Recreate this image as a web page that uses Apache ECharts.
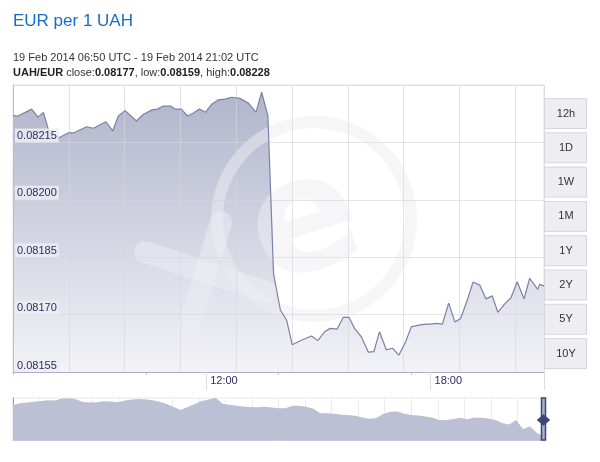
<!DOCTYPE html>
<html>
<head>
<meta charset="utf-8">
<script src="https://cdn.jsdelivr.net/npm/echarts@6/dist/echarts.min.js"></script>
<style>
html, body { margin: 0; padding: 0; background: #fff; }
#chart { width: 600px; height: 462px; }
</style>
</head>
<body>
<div id="chart"></div>
<script>
// UAH/EUR, 19 Feb 2014 (UTC)
var times = ["06:50","06:58","07:20","07:30","07:39","07:47","08:04","08:19","08:28","08:48",
  "08:59","09:19","09:30","09:39","09:50","10:08","10:19","10:33","10:42","10:51",
  "11:03","11:10","11:20","11:30","11:39","11:49","11:59","12:09","12:19","12:30",
  "12:41","12:54","13:08","13:20","13:29","13:39","13:48","13:59","14:09","14:18",
  "14:30","14:49","14:59","15:10","15:19","15:30","15:40","15:49","15:58","16:09",
  "16:20","16:29","16:38","16:49","16:59","17:09","17:20","17:29","17:43","17:53",
  "18:01","18:09","18:19","18:29","18:39","18:48","18:59","19:08","19:19","19:29",
  "19:39","19:48","19:59","20:09","20:19","20:30","20:39","20:52","20:55","21:02"];
var rates = [0.082220,0.082219,0.082237,0.082216,0.082228,0.082182,0.082162,0.082175,0.082175,0.082191,
  0.082187,0.082204,0.082180,0.082219,0.082233,0.082206,0.082223,0.082235,0.082237,0.082245,
  0.082245,0.082237,0.082237,0.082219,0.082226,0.082237,0.082229,0.082250,0.082261,0.082263,
  0.082268,0.082265,0.082252,0.082229,0.082281,0.082219,0.081808,0.081712,0.081686,0.081621,
  0.081631,0.081644,0.081632,0.081655,0.081664,0.081662,0.081693,0.081693,0.081664,0.081642,
  0.081602,0.081603,0.081655,0.081608,0.081612,0.081594,0.081629,0.081668,0.081673,0.081675,
  0.081675,0.081677,0.081675,0.081730,0.081681,0.081689,0.081738,0.081785,0.081777,0.081741,
  0.081749,0.081706,0.081728,0.081744,0.081786,0.081741,0.081795,0.081766,0.081779,0.081775];
var timeLabels = ["12:00", "18:00"];

// long-range overview (navigator), relative level
var navLevels = [35,36.7,37.5,38.3,39,39.7,39.5,41.5,41.7,40.8,38,37.5,37.7,38.7,38.5,37.7,39.5,40.5,41,40.5,
  39.8,38.3,36,33,30,33,36,39,40.5,42.3,36.3,35.3,34.3,33.5,33,32.7,33.3,32.5,31.7,31.7,
  34.3,34.3,33.3,31.2,26.7,26.7,26.2,25.2,25,24.2,22.5,21.3,22,26,28.3,28.5,26.2,25,24.5,23.5,
  22.5,20,20,21,22.3,20.8,22.5,22.3,21.5,20.3,17,15.5,20,11,13.8,7,3.3];

var rangeButtons = ["12h", "1D", "1W", "1M", "1Y", "2Y", "5Y", "10Y"];

var FONT = "Liberation Sans";

function toMin(s) {
  var p = s.split(":");
  return +p[0] * 60 + +p[1];
}
function minToLabel(m) {
  var h = Math.floor(m / 60), mm = m % 60;
  return (h < 10 ? "0" : "") + h + ":" + (mm < 10 ? "0" : "") + mm;
}

var seriesData = times.map(function (t, i) { return [toMin(t), rates[i]]; });
var xMin = toMin(times[0]), xMax = toMin(times[times.length - 1]);
var labelMins = timeLabels.map(toMin);

var gridCol = "rgba(214,214,220,0.65)";
var graphics = [];
// watermark
var wm = "rgba(238,238,244,0.5)";
graphics.push({ type: "ring", z: 2, silent: true, shape: { cx: 314, cy: 219, r: 103, r0: 91 }, style: { fill: wm } });
graphics.push({ type: "text", z: 2, silent: true, x: 306, y: 228, rotation: 0.3,
  style: { text: "e", font: "bold 160px 'DejaVu Sans'", fill: wm, align: "center", verticalAlign: "middle" } });
graphics.push({ type: "line", z: 2, silent: true, shape: { x1: 145, y1: 252, x2: 266, y2: 292 }, style: { stroke: wm, lineWidth: 22, lineCap: "round" } });
graphics.push({ type: "line", z: 2, silent: true, shape: { x1: 221, y1: 222, x2: 188, y2: 330 }, style: { stroke: wm, lineWidth: 22, lineCap: "round" } });

// range buttons
rangeButtons.forEach(function (b, i) {
  var top = 98 + i * 34.3;
  graphics.push({ type: "rect", shape: { x: 544.5, y: top + 0.5, width: 42, height: 30 },
    style: { fill: "#eeeef2", stroke: "#d6d6de", lineWidth: 1 } });
  graphics.push({ type: "text", x: 566, y: top + 15.5,
    style: { text: b, font: "11px '" + FONT + "'", fill: "#333", align: "center", verticalAlign: "middle" } });
});

// navigator handle
graphics.push({ type: "rect", z: 10, shape: { x: 541.5, y: 398, width: 4, height: 42 },
  style: { fill: "#aab0cc", stroke: "#3b4677", lineWidth: 1.5 } });
graphics.push({ type: "polygon", z: 11, shape: { points: [[536.8, 420], [543.5, 414.3], [550.2, 420], [543.5, 425.7]] },
  style: { fill: "#3b4677" } });

var yMin = 0.08155, yMax = 0.0823, yStep = 0.00015;

var chart = echarts.init(document.getElementById("chart"));
chart.setOption({
  animation: false,
  textStyle: { fontFamily: FONT },
  title: [
    { text: "EUR per 1 UAH", left: 13, top: 13, padding: 0,
      textStyle: { fontSize: 17, fontWeight: "normal", color: "#1a6bc4", fontFamily: FONT } },
    { text: "19 Feb 2014 06:50 UTC - 19 Feb 2014 21:02 UTC", left: 13, top: 52, padding: 0,
      textStyle: { fontSize: 11, fontWeight: "normal", color: "#333", fontFamily: FONT } },
    { text: "{b|UAH/EUR} close:{b|0.08177}, low:{b|0.08159}, high:{b|0.08228}", left: 13, top: 67, padding: 0,
      textStyle: { fontSize: 11, fontWeight: "normal", color: "#333", fontFamily: FONT,
        rich: { b: { fontWeight: "bold", fontSize: 11, color: "#222", fontFamily: FONT } } } }
  ],
  grid: [
    { left: 13, right: 56, top: 85, height: 287, show: true, borderColor: "#e2e2e2", borderWidth: 1, backgroundColor: "#fff" },
    { left: 13, right: 56, top: 398, height: 42, show: true, borderColor: "#e6e6e6", borderWidth: 1, backgroundColor: "#fff" }
  ],
  xAxis: [
    { type: "value", gridIndex: 0, min: xMin, max: xMax, z: 4,
      axisLine: { show: true, lineStyle: { color: "#a9aec8" } },
      axisTick: { show: true, customValues: labelMins.concat([xMax]), length: 18, lineStyle: { color: "#dcdce2" } },
      axisLabel: { customValues: labelMins, formatter: function (v) { return minToLabel(v); },
        align: "left", padding: [0, 0, 0, 4], margin: 3, color: "#2d2d63", fontSize: 11, fontFamily: FONT },
      splitLine: { show: false } },
    { type: "value", gridIndex: 0, min: 0, max: 9.516, interval: 1, z: 2,
      axisLine: { show: false }, axisTick: { show: false }, axisLabel: { show: false },
      splitLine: { show: true, lineStyle: { color: gridCol } } },
    { type: "value", gridIndex: 0, min: 0, max: 4, interval: 1, position: "bottom",
      axisLine: { show: false }, axisTick: { show: true, length: 3, lineStyle: { color: "#c4c6d4" } },
      axisLabel: { show: false }, splitLine: { show: false } },
    { type: "category", gridIndex: 1, boundaryGap: false, data: navLevels.map(function (_, i) { return i; }),
      axisLine: { show: true, lineStyle: { color: "#c8cad8" } }, axisTick: { show: false }, axisLabel: { show: false },
      splitLine: { show: false } },
    { type: "value", gridIndex: 1, min: 0, max: 20, interval: 1,
      axisLine: { show: false }, axisTick: { show: false }, axisLabel: { show: false },
      splitLine: { show: true, lineStyle: { color: "#ebebeb" } } }
  ],
  yAxis: [
    { type: "value", gridIndex: 0, position: "left", min: yMin, max: yMax, interval: yStep, z: 2,
      axisLine: { show: true, lineStyle: { color: "#b8bcd4" } }, axisTick: { show: false },
      axisLabel: { show: false },
      splitLine: { show: true, lineStyle: { color: gridCol } } },
    { type: "value", gridIndex: 1, min: 0, max: 42,
      axisLine: { show: true, lineStyle: { color: "#9a9aa6" } }, axisTick: { show: false },
      axisLabel: { show: false }, splitLine: { show: false } },
    { type: "value", gridIndex: 0, position: "left", offset: 0, min: yMin, max: yMax, interval: yStep, z: 10,
      axisLine: { show: false }, axisTick: { show: false }, splitLine: { show: false },
      axisLabel: { inside: true, showMaxLabel: false, verticalAlign: "bottom", margin: 2,
        padding: [2, 2, 1, 2], backgroundColor: "rgba(236,236,242,0.85)",
        color: "#2d2d63", fontSize: 11, fontFamily: FONT,
        formatter: function (v) { return v.toFixed(5); } } }
  ],
  series: [
    { type: "line", xAxisIndex: 0, yAxisIndex: 0, z: 1, data: seriesData, symbol: "none",
      lineStyle: { width: 0 },
      areaStyle: { opacity: 1, color: new echarts.graphic.LinearGradient(0, 0, 0, 1, [
        { offset: 0, color: "#b1b5cc" }, { offset: 1, color: "#f3f3f7" }]) } },
    { type: "line", xAxisIndex: 0, yAxisIndex: 0, z: 3, data: seriesData, symbol: "none",
      lineStyle: { width: 1.2, color: "#7a81a8" } },
    { type: "line", xAxisIndex: 3, yAxisIndex: 1, data: navLevels, symbol: "none",
      lineStyle: { width: 0 }, areaStyle: { opacity: 1, color: "#bcc0d4" } }
  ],
  graphic: graphics
});
</script>
</body>
</html>
